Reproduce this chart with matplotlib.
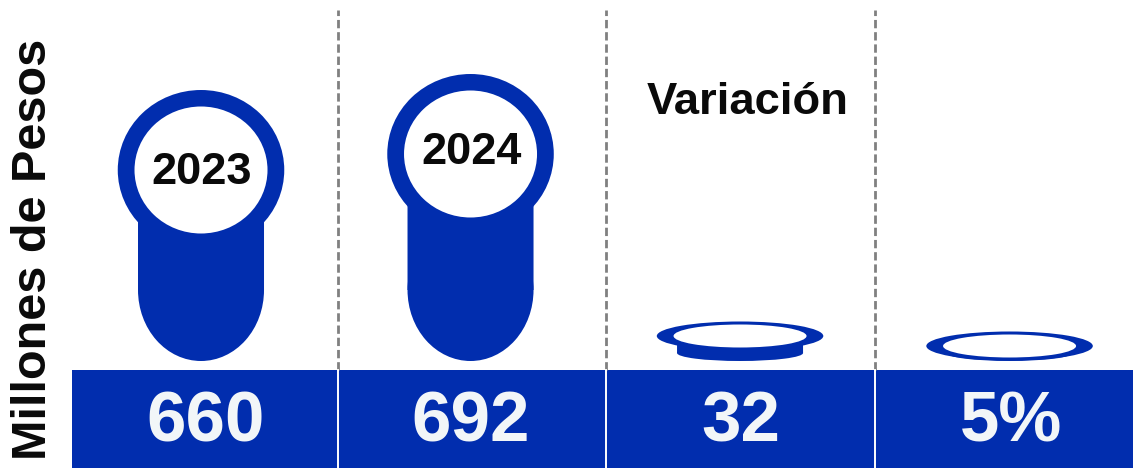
#!/usr/bin/env python3
"""Bubble-topped bars with a value strip underneath (millones de pesos)."""

import matplotlib

matplotlib.use("Agg")
import matplotlib.pyplot as plt
from matplotlib.patches import Ellipse

BLUE = "#012DAE"
FONT = "Liberation Sans"

# drawn bar heights (the bars don't follow the labels exactly)
bar_heights = [191, 207, 25, 15]
strip_labels = ["660", "692", "32", "5%"]
bubble_labels = ["2023", "2024", "", ""]
header = "Variación"
y_title = "Millones de Pesos"

positions = range(len(bar_heights))

fig = plt.figure(figsize=(11.33, 4.68), dpi=100)
ax = fig.add_axes([0, 0, 1, 1])
ax.set_xlim(-0.7458, 3.458)
ax.set_ylim(-107, 361)
ax.axis("off")

px = 1 / 269.5  # one pixel in category units

for x, h, label in zip(positions, bar_heights, bubble_labels):
    big = h > 100
    cap = 71 if big else 8
    ring_h = 80 if big else 14.5
    hole_h = 63.5 if big else 11.5

    # bar body with a rounded bottom
    ax.bar(x, h - cap, bottom=cap, width=126 * px, color=BLUE, linewidth=0, zorder=2, snap=False)
    ax.add_patch(Ellipse((x, cap), 126 * px, 2 * cap, color=BLUE, lw=0, zorder=2))

    # ring on top of the bar
    ax.add_patch(Ellipse((x, h), 166.5 * px, 2 * ring_h, color=BLUE, lw=0, zorder=3))
    ax.add_patch(Ellipse((x, h), 133 * px, 2 * hole_h, color="white", lw=0, zorder=4))

    if label:
        ax.text(x + 1 * px, h - 2 if not x else h + 1, label, ha="center", va="center",
                fontsize=32.5, fontweight="bold", family=FONT, color="#0a0a0a", zorder=5)

# value strip
ax.axhspan(-107, -9, xmin=72 / 1133, xmax=1, color=BLUE, lw=0, zorder=1)
nudge = [5, 0, 1, 2]
for x, value, dx in zip(positions, strip_labels, nudge):
    ax.text(x + dx * px, -63, value, ha="center", va="center", fontsize=51,
            fontweight="bold", family=FONT, color="#F2F6F8", zorder=5)

# separators, dashed above the strip and white inside it
sep_nudge = [2, 1, 0.5]
for x, dx in zip(range(len(bar_heights) - 1), sep_nudge):
    sx = x + 0.5 + dx * px
    ax.plot([sx, sx], [-9, 351], color="#808080", lw=2, dashes=(3, 1.4), zorder=1)
    ax.plot([sx, sx], [-107, -9], color="white", lw=1.4, zorder=2)

ax.text(2 + 8 * px, 258, header, ha="center", va="center", fontsize=32.7,
        fontweight="bold", family=FONT, color="#0a0a0a")
ax.text(34 / 1133, 0.468, y_title, transform=ax.transAxes, rotation=90, ha="center",
        va="center", fontsize=35, fontweight="bold", family=FONT, color="#0a0a0a")

fig.savefig("out.png", dpi=100)
plt.close(fig)
